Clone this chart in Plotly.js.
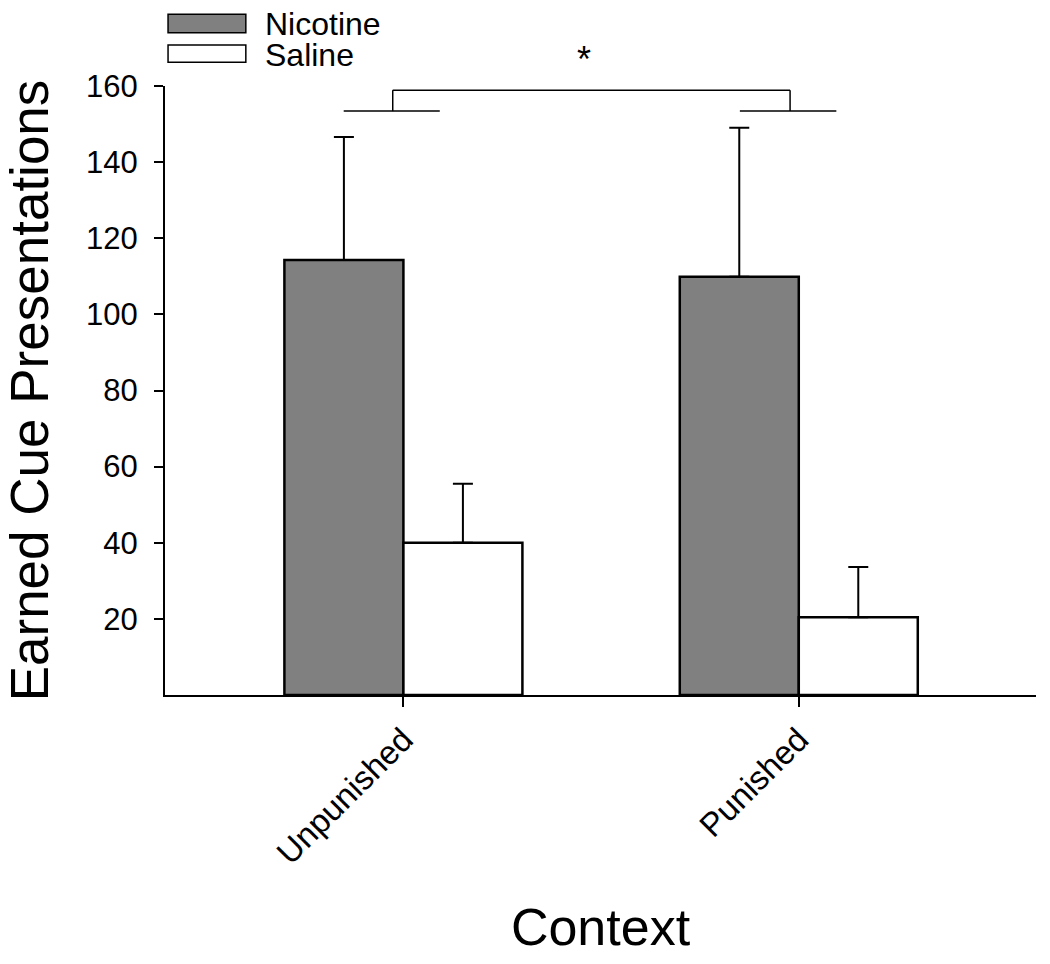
<!DOCTYPE html>
<html>
<head>
<meta charset="utf-8">
<script src="https://cdn.plot.ly/plotly-3.0.1.min.js"></script>
<style>
  html, body { margin: 0; padding: 0; background: #fff; }
  #chart { width: 1050px; height: 964px; }
</style>
</head>
<body>
<div id="chart"></div>
<script>
// ---- data ----
const categories = ["Unpunished", "Punished"];
const seriesNames = ["Nicotine", "Saline"];
const nicotineMean = [114.3, 109.9];
const nicotineSEM = [32.3, 39.1];
const salineMean = [40.0, 20.4];
const salineSEM = [15.5, 13.2];
const yTickVals = [20, 40, 60, 80, 100, 120, 140, 160];
// significance bracket (data units: category index on x, value on y)
const bracketLowY = 153.4;
const bracketHighY = 158.9;
const bracketGroupSpans = [[-0.151, 0.092], [0.851, 1.095]];
const bracketDrops = [-0.027, 0.978];
const sigLabel = "*";

const FONT = "Liberation Sans, Arial, sans-serif";

function barTrace(name, y, err, fill) {
  return {
    type: "bar",
    name: name,
    x: categories,
    y: y,
    marker: { color: fill, line: { color: "#000", width: 2.5 } },
    error_y: {
      type: "data", symmetric: false, array: err, arrayminus: err.map(() => 0),
      color: "#000", thickness: 2, width: 10
    },
    showlegend: false
  };
}

const traces = [
  barTrace(seriesNames[0], nicotineMean, nicotineSEM, "#808080"),
  barTrace(seriesNames[1], salineMean, salineSEM, "#ffffff")
];

const line = { color: "#000", width: 1.5 };
const shapes = [];
bracketGroupSpans.forEach(s => {
  shapes.push({ type: "line", xref: "x", yref: "y", x0: s[0], x1: s[1], y0: bracketLowY, y1: bracketLowY, line: line });
});
bracketDrops.forEach(x => {
  shapes.push({ type: "line", xref: "x", yref: "y", x0: x, x1: x, y0: bracketLowY, y1: bracketHighY, line: line });
});
shapes.push({ type: "line", xref: "x", yref: "y", x0: bracketDrops[0], x1: bracketDrops[1], y0: bracketHighY, y1: bracketHighY, line: line });

// legend drawn as wide boxes (paper coordinates)
const legendFills = ["#808080", "#ffffff"];
const legendBoxY = [[1.0875, 1.118], [1.0389, 1.0673]];
const legendTextY = [1.102, 1.051];
legendFills.forEach((f, i) => {
  shapes.push({ type: "rect", xref: "paper", yref: "paper", x0: 0.0035, x1: 0.0928,
    y0: legendBoxY[i][0], y1: legendBoxY[i][1], fillcolor: f, line: { color: "#000", width: 1.5 } });
});

const annotations = seriesNames.map((n, i) => ({
  text: n, xref: "paper", yref: "paper", x: 0.113, y: legendTextY[i],
  xanchor: "left", yanchor: "middle", showarrow: false,
  font: { family: FONT, size: 32, color: "#000" }
}));
annotations.push({
  text: sigLabel, xref: "paper", yref: "paper", x: 0.4805, y: 1.043,
  xanchor: "center", yanchor: "middle", showarrow: false,
  font: { family: FONT, size: 36, color: "#000" }
});

const layout = {
  width: 1050, height: 964,
  margin: { l: 165, r: 14, t: 86, b: 269 },
  paper_bgcolor: "#fff", plot_bgcolor: "#fff",
  font: { family: FONT, color: "#000" },
  barmode: "group", bargap: 0.398, bargroupgap: 0,
  showlegend: false,
  xaxis: {
    type: "category", range: [-0.603, 1.6],
    showline: true, linecolor: "#000", linewidth: 2,
    ticks: "outside", ticklen: 10, tickwidth: 2, tickcolor: "#000",
    tickangle: -45, tickfont: { family: FONT, size: 33 },
    showgrid: false, zeroline: false,
    title: { text: "Context", font: { family: FONT, size: 52 }, standoff: 38 }
  },
  yaxis: {
    range: [0, 160], tickvals: yTickVals,
    showline: true, linecolor: "#000", linewidth: 2,
    ticks: "outside", ticklen: 9, tickwidth: 2, tickcolor: "#000",
    ticklabelstandoff: 10,
    tickfont: { family: FONT, size: 31 },
    showgrid: false, zeroline: false,
    title: { text: "Earned Cue Presentations", font: { family: FONT, size: 53 }, standoff: 24 }
  },
  shapes: shapes,
  annotations: annotations
};

Plotly.newPlot("chart", traces, layout, { displayModeBar: false, staticPlot: true });
</script>
</body>
</html>
